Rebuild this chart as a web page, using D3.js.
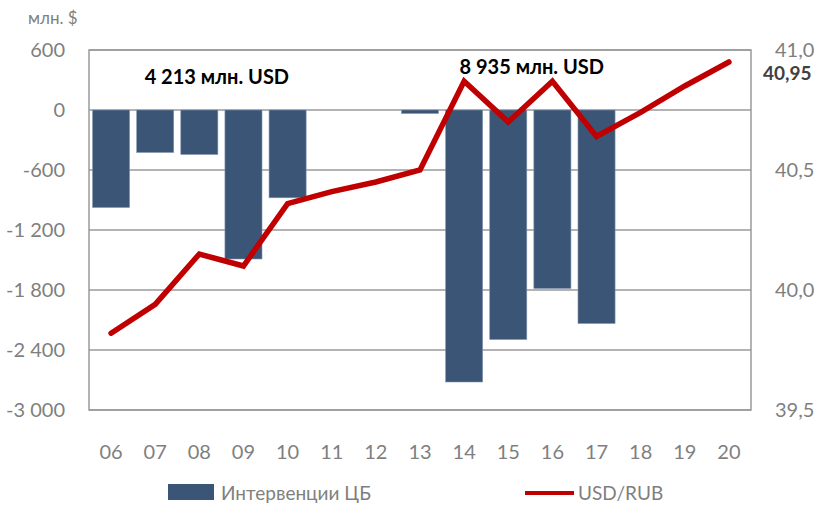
<!DOCTYPE html>
<html>
<head>
<meta charset="utf-8">
<script src="https://cdnjs.cloudflare.com/ajax/libs/d3/7.8.5/d3.min.js"></script>
<style>
  body { margin: 0; background: #fff; }
  text { font-family: Lato, "Open Sans", sans-serif; }
</style>
</head>
<body>
<div id="chart"></div>
<script>
var years = ["06","07","08","09","10","11","12","13","14","15","16","17","18","19","20"];
var interventions = [-975, -425, -445, -1490, -878, null, null, -35, -2720, -2295, -1785, -2135, null, null, null];
var usdRub = [39.82, 39.94, 40.15, 40.10, 40.36, 40.41, 40.45, 40.50, 40.87, 40.70, 40.87, 40.64, 40.74, 40.85, 40.95];
var leftTicks = [600, 0, -600, -1200, -1800, -2400, -3000];
var rightTicks = [41.0, 40.5, 40.0, 39.5];

var W = 819, H = 506;
var m = {left: 89, right: 68, top: 50, bottom: 96};
var w = W - m.left - m.right, h = H - m.top - m.bottom;

var svg = d3.select("#chart").append("svg").attr("width", W).attr("height", H);
var g = svg.append("g").attr("transform", "translate(" + m.left + "," + m.top + ")");

var x = d3.scaleBand().domain(years).range([0, w]).paddingInner(0.16).paddingOuter(0.08);
var y = d3.scaleLinear().domain([-3000, 600]).range([h, 0]);
var y2 = d3.scaleLinear().domain([39.5, 41.0]).range([h, 0]);

var fmt = function(d) { return d3.format(",")(d).replace(",", "\u00a0").replace("\u2212", "-"); };

// grid
g.selectAll(".grid").data(leftTicks).enter().append("line")
  .attr("x1", 0).attr("x2", w)
  .attr("y1", function(d){ return y(d); }).attr("y2", function(d){ return y(d); })
  .attr("stroke", "#9a9a9a").attr("stroke-width", 1.5);
g.append("rect").attr("width", w).attr("height", h)
  .attr("fill", "none").attr("stroke", "#9a9a9a").attr("stroke-width", 1.5);

// bars
var barData = years.map(function(d, i){ return {year: d, v: interventions[i]}; })
  .filter(function(d){ return d.v !== null; });
g.selectAll(".bar").data(barData).enter().append("rect")
  .attr("x", function(d){ return x(d.year); })
  .attr("width", x.bandwidth())
  .attr("y", y(0))
  .attr("height", function(d){ return Math.max(y(d.v) - y(0), 3); })
  .attr("fill", "#3b5576")
  .attr("stroke", "#8497b0").attr("stroke-width", 0.6);

// line
var line = d3.line()
  .x(function(d, i){ return x(years[i]) + x.bandwidth() / 2; })
  .y(function(d){ return y2(d); });
g.append("path").datum(usdRub).attr("d", line)
  .attr("fill", "none").attr("stroke", "#c00000").attr("stroke-width", 5.5)
  .attr("stroke-linejoin", "miter").attr("stroke-linecap", "round");

// left axis labels
g.selectAll(".ly").data(leftTicks).enter().append("text")
  .attr("x", -24).attr("y", function(d){ return y(d); }).attr("dy", "0.35em")
  .attr("text-anchor", "end").attr("fill", "#7f7f7f").style("font-size", "20px")
  .text(fmt);

// right axis labels
g.selectAll(".ry").data(rightTicks).enter().append("text")
  .attr("x", w + 24).attr("y", function(d){ return y2(d); }).attr("dy", "0.35em")
  .attr("text-anchor", "start").attr("fill", "#7f7f7f").style("font-size", "20px")
  .text(function(d){ return d3.format(".1f")(d).replace(".", ","); });

var last = usdRub[usdRub.length - 1];
g.append("text").attr("x", w + 12).attr("y", y2(last) + 18)
  .attr("fill", "#404040").style("font-size", "19px").style("font-weight", "bold")
  .text(String(last).replace(".", ","));

// x labels
g.selectAll(".xl").data(years).enter().append("text")
  .attr("x", function(d){ return x(d) + x.bandwidth() / 2; })
  .attr("y", h + 49).attr("text-anchor", "middle")
  .attr("fill", "#7f7f7f").style("font-size", "20px")
  .text(function(d){ return d; });

// unit
svg.append("text").attr("x", 28).attr("y", 24).attr("fill", "#7f7f7f")
  .style("font-size", "17px").text("млн. $");

// annotations
var sum1 = d3.sum(interventions.slice(0, 5));
var sum2 = d3.sum(interventions.slice(8, 12));
var ann = function(v) { return d3.format(",")(-v).replace(",", "\u00a0") + " млн. USD"; };
g.append("text").attr("x", (x("07") + x("10")) / 2 + 14).attr("y", 34)
  .attr("text-anchor", "middle").attr("fill", "#000").style("font-size", "20px").style("font-weight", "bold")
  .text(ann(sum1));
g.append("text").attr("x", (x("15") + x("16")) / 2 + 20).attr("y", 24)
  .attr("text-anchor", "middle").attr("fill", "#000").style("font-size", "20px").style("font-weight", "bold")
  .text(ann(sum2));

// legend
var lg = svg.append("g").attr("transform", "translate(0," + 493 + ")");
lg.append("rect").attr("x", 168).attr("y", -9).attr("width", 46).attr("height", 16).attr("fill", "#3b5576");
lg.append("text").attr("x", 221).attr("y", 0).attr("dy", "0.35em").attr("fill", "#7f7f7f")
  .style("font-size", "19px").text("Интервенции ЦБ");
lg.append("line").attr("x1", 525).attr("x2", 574).attr("y1", 0).attr("y2", 0)
  .attr("stroke", "#c00000").attr("stroke-width", 4);
lg.append("text").attr("x", 578).attr("y", 0).attr("dy", "0.35em").attr("fill", "#7f7f7f")
  .style("font-size", "19px").text("USD/RUB");
</script>
</body>
</html>
